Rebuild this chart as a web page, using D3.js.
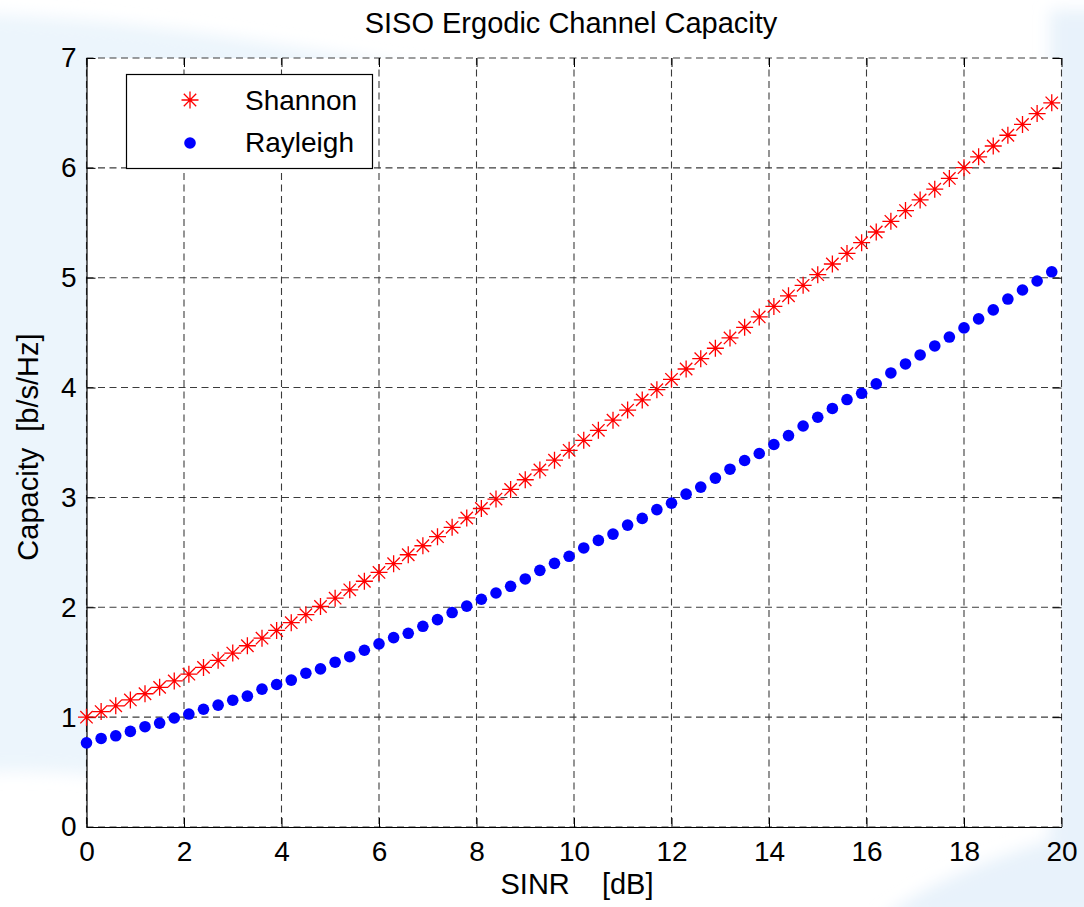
<!DOCTYPE html>
<html>
<head>
<meta charset="utf-8">
<script src="https://cdn.jsdelivr.net/npm/d3@7"></script>
<style>
  html, body { margin: 0; padding: 0; background: #ffffff; }
  svg { display: block; }
  text { font-family: "Liberation Sans", Arial, Helvetica, sans-serif; fill: #000; }
</style>
</head>
<body>
<div id="chart"></div>
<script>
// SINR sample points [dB]
const sinrDb = [
  0.0, 0.3, 0.6, 0.9, 1.2, 1.5, 1.8, 2.1, 2.4, 2.7,
  3.0, 3.3, 3.6, 3.9, 4.2, 4.5, 4.8, 5.1, 5.4, 5.7,
  6.0, 6.3, 6.6, 6.9, 7.2, 7.5, 7.8, 8.1, 8.4, 8.7,
  9.0, 9.3, 9.6, 9.9, 10.2, 10.5, 10.8, 11.1, 11.4, 11.7,
  12.0, 12.3, 12.6, 12.9, 13.2, 13.5, 13.8, 14.1, 14.4, 14.7,
  15.0, 15.3, 15.6, 15.9, 16.2, 16.5, 16.8, 17.1, 17.4, 17.7,
  18.0, 18.3, 18.6, 18.9, 19.2, 19.5, 19.8
];

// Capacity [b/s/Hz], AWGN (Shannon) channel
const shannon = [
  1.000, 1.051, 1.103, 1.157, 1.213, 1.271, 1.330, 1.391, 1.453, 1.517,
  1.583, 1.650, 1.719, 1.789, 1.860, 1.933, 2.007, 2.083, 2.159, 2.237,
  2.317, 2.397, 2.478, 2.560, 2.643, 2.728, 2.813, 2.899, 2.985, 3.073,
  3.161, 3.250, 3.339, 3.429, 3.520, 3.611, 3.703, 3.795, 3.888, 3.981,
  4.075, 4.169, 4.263, 4.358, 4.452, 4.548, 4.643, 4.739, 4.835, 4.931,
  5.028, 5.125, 5.221, 5.319, 5.416, 5.513, 5.611, 5.708, 5.806, 5.904,
  6.002, 6.100, 6.199, 6.297, 6.395, 6.494, 6.592
];

// Capacity [b/s/Hz], Rayleigh fading channel
const rayleigh = [
  0.766, 0.806, 0.830, 0.870, 0.913, 0.946, 0.992, 1.028, 1.072, 1.109,
  1.154, 1.191, 1.255, 1.297, 1.337, 1.400, 1.439, 1.500, 1.550, 1.609,
  1.667, 1.724, 1.763, 1.827, 1.888, 1.952, 2.011, 2.073, 2.130, 2.191,
  2.258, 2.336, 2.400, 2.464, 2.540, 2.609, 2.666, 2.748, 2.809, 2.889,
  2.948, 3.030, 3.094, 3.176, 3.257, 3.336, 3.400, 3.482, 3.563, 3.650,
  3.730, 3.810, 3.891, 3.948, 4.034, 4.133, 4.215, 4.297, 4.379, 4.460,
  4.543, 4.625, 4.707, 4.806, 4.888, 4.970, 5.054
];

const xTicks = [0, 2, 4, 6, 8, 10, 12, 14, 16, 18, 20];
const yTicks = [0, 1, 2, 3, 4, 5, 6, 7];
const seriesNames = ["Shannon", "Rayleigh"];
const titleText = "SISO Ergodic Channel Capacity";
const xLabelText = "SINR  [dB]";
const yLabelText = "Capacity  [b/s/Hz]";

const W = 1084, H = 907;
const plot = { left: 86.5, right: 1061.5, top: 58, bottom: 827 };

const svg = d3.select("#chart").append("svg")
  .attr("width", W).attr("height", H);

// soft background decoration behind the axes
const defs = svg.append("defs");
defs.append("filter").attr("id", "soft")
  .attr("x", "-20%").attr("y", "-20%").attr("width", "140%").attr("height", "140%")
  .append("feGaussianBlur").attr("stdDeviation", 8);

const bg = svg.append("g").attr("filter", "url(#soft)");
bg.append("path")
  .attr("d", "M-20,14 C120,18 260,40 430,70 L430,120 L100,160 L100,775 C60,772 20,770 -20,772 Z")
  .attr("fill", "#ecf5fc");
bg.append("path")
  .attr("d", "M1050,10 L1110,10 L1110,920 L880,920 C930,880 990,860 1050,840 Z")
  .attr("fill", "#e8f2fb");

// plot area
svg.append("rect")
  .attr("x", plot.left).attr("y", plot.top)
  .attr("width", plot.right - plot.left).attr("height", plot.bottom - plot.top)
  .attr("fill", "#ffffff");

const x = d3.scaleLinear().domain([0, 20]).range([plot.left, plot.right]);
const y = d3.scaleLinear().domain([0, 7]).range([plot.bottom, plot.top]);

// dashed grid
const grid = svg.append("g")
  .attr("stroke", "#3c3c3c").attr("stroke-width", 1.1)
  .attr("stroke-dasharray", "7,4.5").attr("fill", "none");
grid.selectAll(".gx").data(xTicks).join("line")
  .attr("x1", d => x(d)).attr("x2", d => x(d))
  .attr("y1", plot.top).attr("y2", plot.bottom);
grid.selectAll(".gy").data(yTicks).join("line")
  .attr("x1", plot.left).attr("x2", plot.right)
  .attr("y1", d => y(d)).attr("y2", d => y(d));

// axes with inward ticks
const tickLen = 9;
const fmt = d3.format("d");
const xAxisB = d3.axisBottom(x).tickValues(xTicks).tickFormat(fmt).tickSizeInner(-tickLen).tickSizeOuter(0).tickPadding(14);
const xAxisT = d3.axisTop(x).tickValues(xTicks).tickSizeInner(-tickLen).tickSizeOuter(0).tickFormat("");
const yAxisL = d3.axisLeft(y).tickValues(yTicks).tickFormat(fmt).tickSizeInner(-tickLen).tickSizeOuter(0).tickPadding(10);
const yAxisR = d3.axisRight(y).tickValues(yTicks).tickSizeInner(-tickLen).tickSizeOuter(0).tickFormat("");

function styleAxis(g, showDomain) {
  g.select(".domain").attr("stroke", showDomain ? "#000" : "none").attr("stroke-width", 1.2);
  g.selectAll(".tick line").attr("stroke", "#000").attr("stroke-width", 1);
  g.selectAll(".tick text")
    .style("font-family", '"Liberation Sans", Arial, sans-serif')
    .style("font-size", "28px").attr("fill", "#000");
}

svg.append("g").attr("transform", `translate(0,${plot.bottom})`).call(xAxisB).call(g => styleAxis(g, true));
svg.append("g").attr("transform", `translate(0,${plot.top})`).call(xAxisT).call(g => styleAxis(g, false));
svg.append("g").attr("transform", `translate(${plot.left},0)`).call(yAxisL).call(g => styleAxis(g, true));
svg.append("g").attr("transform", `translate(${plot.right},0)`).call(yAxisR).call(g => styleAxis(g, false));

// star marker ('*'): plus with diagonal cross
const starPath = (() => {
  const a = 8.5, b = 6.2;
  return `M${-a},0L${a},0M0,${-a}L0,${a}M${-b},${-b}L${b},${b}M${-b},${b}L${b},${-b}`;
})();

const pts = sinrDb.map((s, i) => ({ s, sh: shannon[i], ry: rayleigh[i] }));

svg.append("g").selectAll("path").data(pts).join("path")
  .attr("transform", d => `translate(${x(d.s)},${y(d.sh)})`)
  .attr("d", starPath)
  .attr("stroke", "#ff0000").attr("stroke-width", 1.3).attr("fill", "none");

svg.append("g").selectAll("circle").data(pts).join("circle")
  .attr("cx", d => x(d.s)).attr("cy", d => y(d.ry))
  .attr("r", 5.8).attr("fill", "#0000ff");

// legend
const lg = svg.append("g");
lg.append("rect")
  .attr("x", 126.5).attr("y", 74.5).attr("width", 246).attr("height", 94)
  .attr("fill", "#fff").attr("stroke", "#000").attr("stroke-width", 1.2);
lg.append("path").attr("transform", "translate(190,100)").attr("d", starPath)
  .attr("stroke", "#ff0000").attr("stroke-width", 1.3).attr("fill", "none");
lg.append("circle").attr("cx", 190).attr("cy", 143).attr("r", 5.8).attr("fill", "#0000ff");
lg.append("text").attr("x", 245).attr("y", 110).style("font-size", "28px").text(seriesNames[0]);
lg.append("text").attr("x", 245).attr("y", 152).style("font-size", "28px").text(seriesNames[1]);

// title and axis labels
svg.append("text").attr("x", (plot.left + plot.right) / 2 - 3).attr("y", 33)
  .attr("text-anchor", "middle").style("font-size", "29px").text(titleText);
svg.append("text").attr("x", 577).attr("y", 894)
  .attr("text-anchor", "middle").style("font-size", "29px")
  .style("white-space", "pre").style("word-spacing", "8px")
  .attr("xml:space", "preserve").text(xLabelText);
svg.append("text").attr("transform", `translate(38,447) rotate(-90)`)
  .attr("text-anchor", "middle").style("font-size", "29px")
  .style("white-space", "pre").attr("xml:space", "preserve").text(yLabelText);
</script>
</body>
</html>
